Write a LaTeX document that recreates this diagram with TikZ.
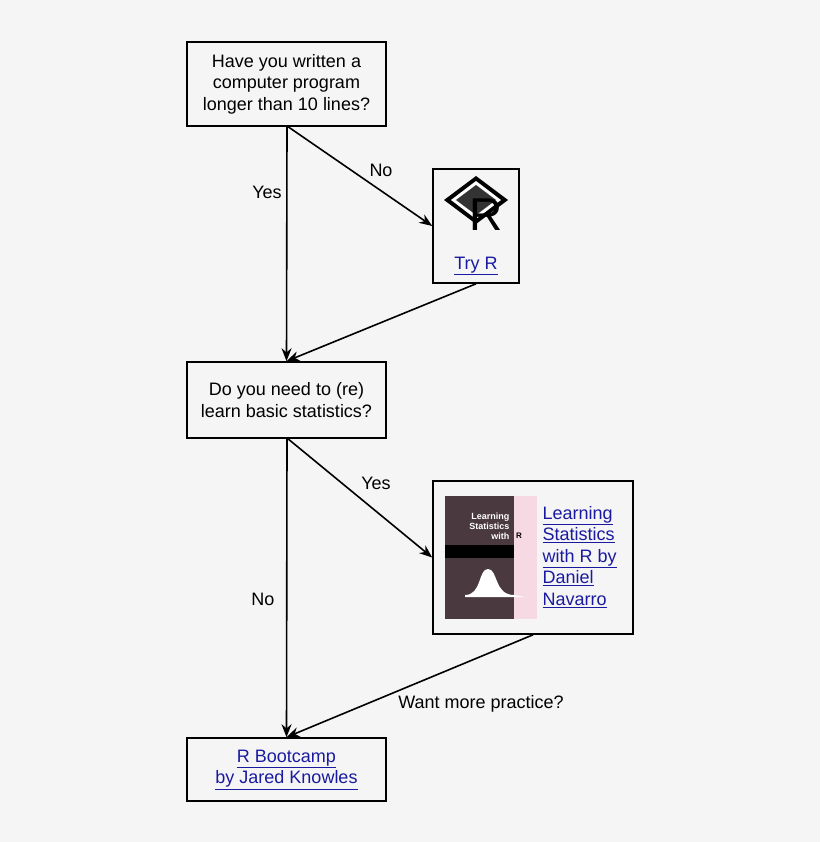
\documentclass[tikz,border=0pt]{standalone}
\usepackage{fontspec}
\setmainfont{Liberation Sans}
\usetikzlibrary{arrows.meta}
\definecolor{bg}{HTML}{F5F5F5}
\definecolor{lnk}{HTML}{1A1AA0}
\definecolor{cover}{HTML}{4A3A40}
\begin{document}
\begin{tikzpicture}[x=1pt,y=-1pt,
  box/.style={draw,line width=1.6pt,fill=bg,inner sep=0pt},
  txt/.style={font=\fontsize{18}{21.5}\selectfont,align=center},
  arr/.style={line width=1.6pt,-{Stealth[length=13pt,width=10pt]}},
  lab/.style={font=\fontsize{18}{21}\selectfont}]
\fill[bg] (0,0) rectangle (820,842);
\useasboundingbox (0,0) rectangle (820,842);
% boxes
\node[box,minimum width=199pt,minimum height=84pt] (q1) at (286.5,84) {};
\node[txt] at (q1) {Have you written a\\computer program\\longer than 10 lines?};
\node[box,minimum width=86pt,minimum height=114pt] (tr) at (476,226) {};
\node[box,minimum width=199pt,minimum height=76pt] (q2) at (286.5,400) {};
\node[txt] at (q2) {Do you need to (re)\\learn basic statistics?};
\node[box,minimum width=200pt,minimum height=153pt] (bk) at (533,557.5) {};
\node[box,minimum width=199pt,minimum height=63pt] (rb) at (286.5,769.5) {};
\node[txt,text=lnk] at (rb) {\underline{R Bootcamp}\\\underline{by Jared Knowles}};
% Try R content
\node[txt,text=lnk] (trl) at (476,266) {\underline{Try R}};
\fill[black] (476,176) -- (508,200) -- (476,224) -- (444,200) -- cycle;
\fill[white] (476,181) -- (501,200) -- (476,219) -- (451,200) -- cycle;
\fill[black!80] (476,185) -- (496,200) -- (476,215) -- (456,200) -- cycle;
\node[font=\fontsize{46}{46}\selectfont] at (486,215) {R};
% book cover
\fill[cover] (445,496) rectangle (514,619);
\fill[purple!15!white] (514,496) rectangle (537,619);
\fill[black] (445,545) rectangle (514,558);
\node[font=\fontsize{9}{10}\selectfont\bfseries,text=white,align=right,anchor=north east] at (513,509) {Learning\\Statistics\\with};
\node[font=\fontsize{8}{8}\selectfont\bfseries] at (519,536) {R};
\fill[white] (465,595) .. controls (482,595) and (478,569) .. (488,569) .. controls (498,569) and (494,595) .. (514,595) -- (525,597) -- (465,597) -- cycle;
\node[txt,text=lnk,align=left,anchor=west] at (539,557) {\underline{Learning}\\\underline{Statistics}\\\underline{with R by}\\\underline{Daniel}\\\underline{Navarro}};
% connectors
\coordinate (s1) at (287,126);
\coordinate (s2) at (287,438);
\draw[arr] (s1) -- (q2.north);
\draw[arr] (s1) -- (tr.west);
\draw[arr] (tr.south) -- (q2.north);
\draw[arr] (s2) -- (rb.north);
\draw[arr] (s2) -- (bk.west);
\draw[arr] (bk.south) -- (rb.north);
% labels
\node[lab] at (267,192) {Yes};
\node[lab] at (381,170) {No};
\node[lab] at (376,483) {Yes};
\node[lab] at (263,599) {No};
\node[lab] at (481,704) {Want more practice?};
\end{tikzpicture}
\end{document}
